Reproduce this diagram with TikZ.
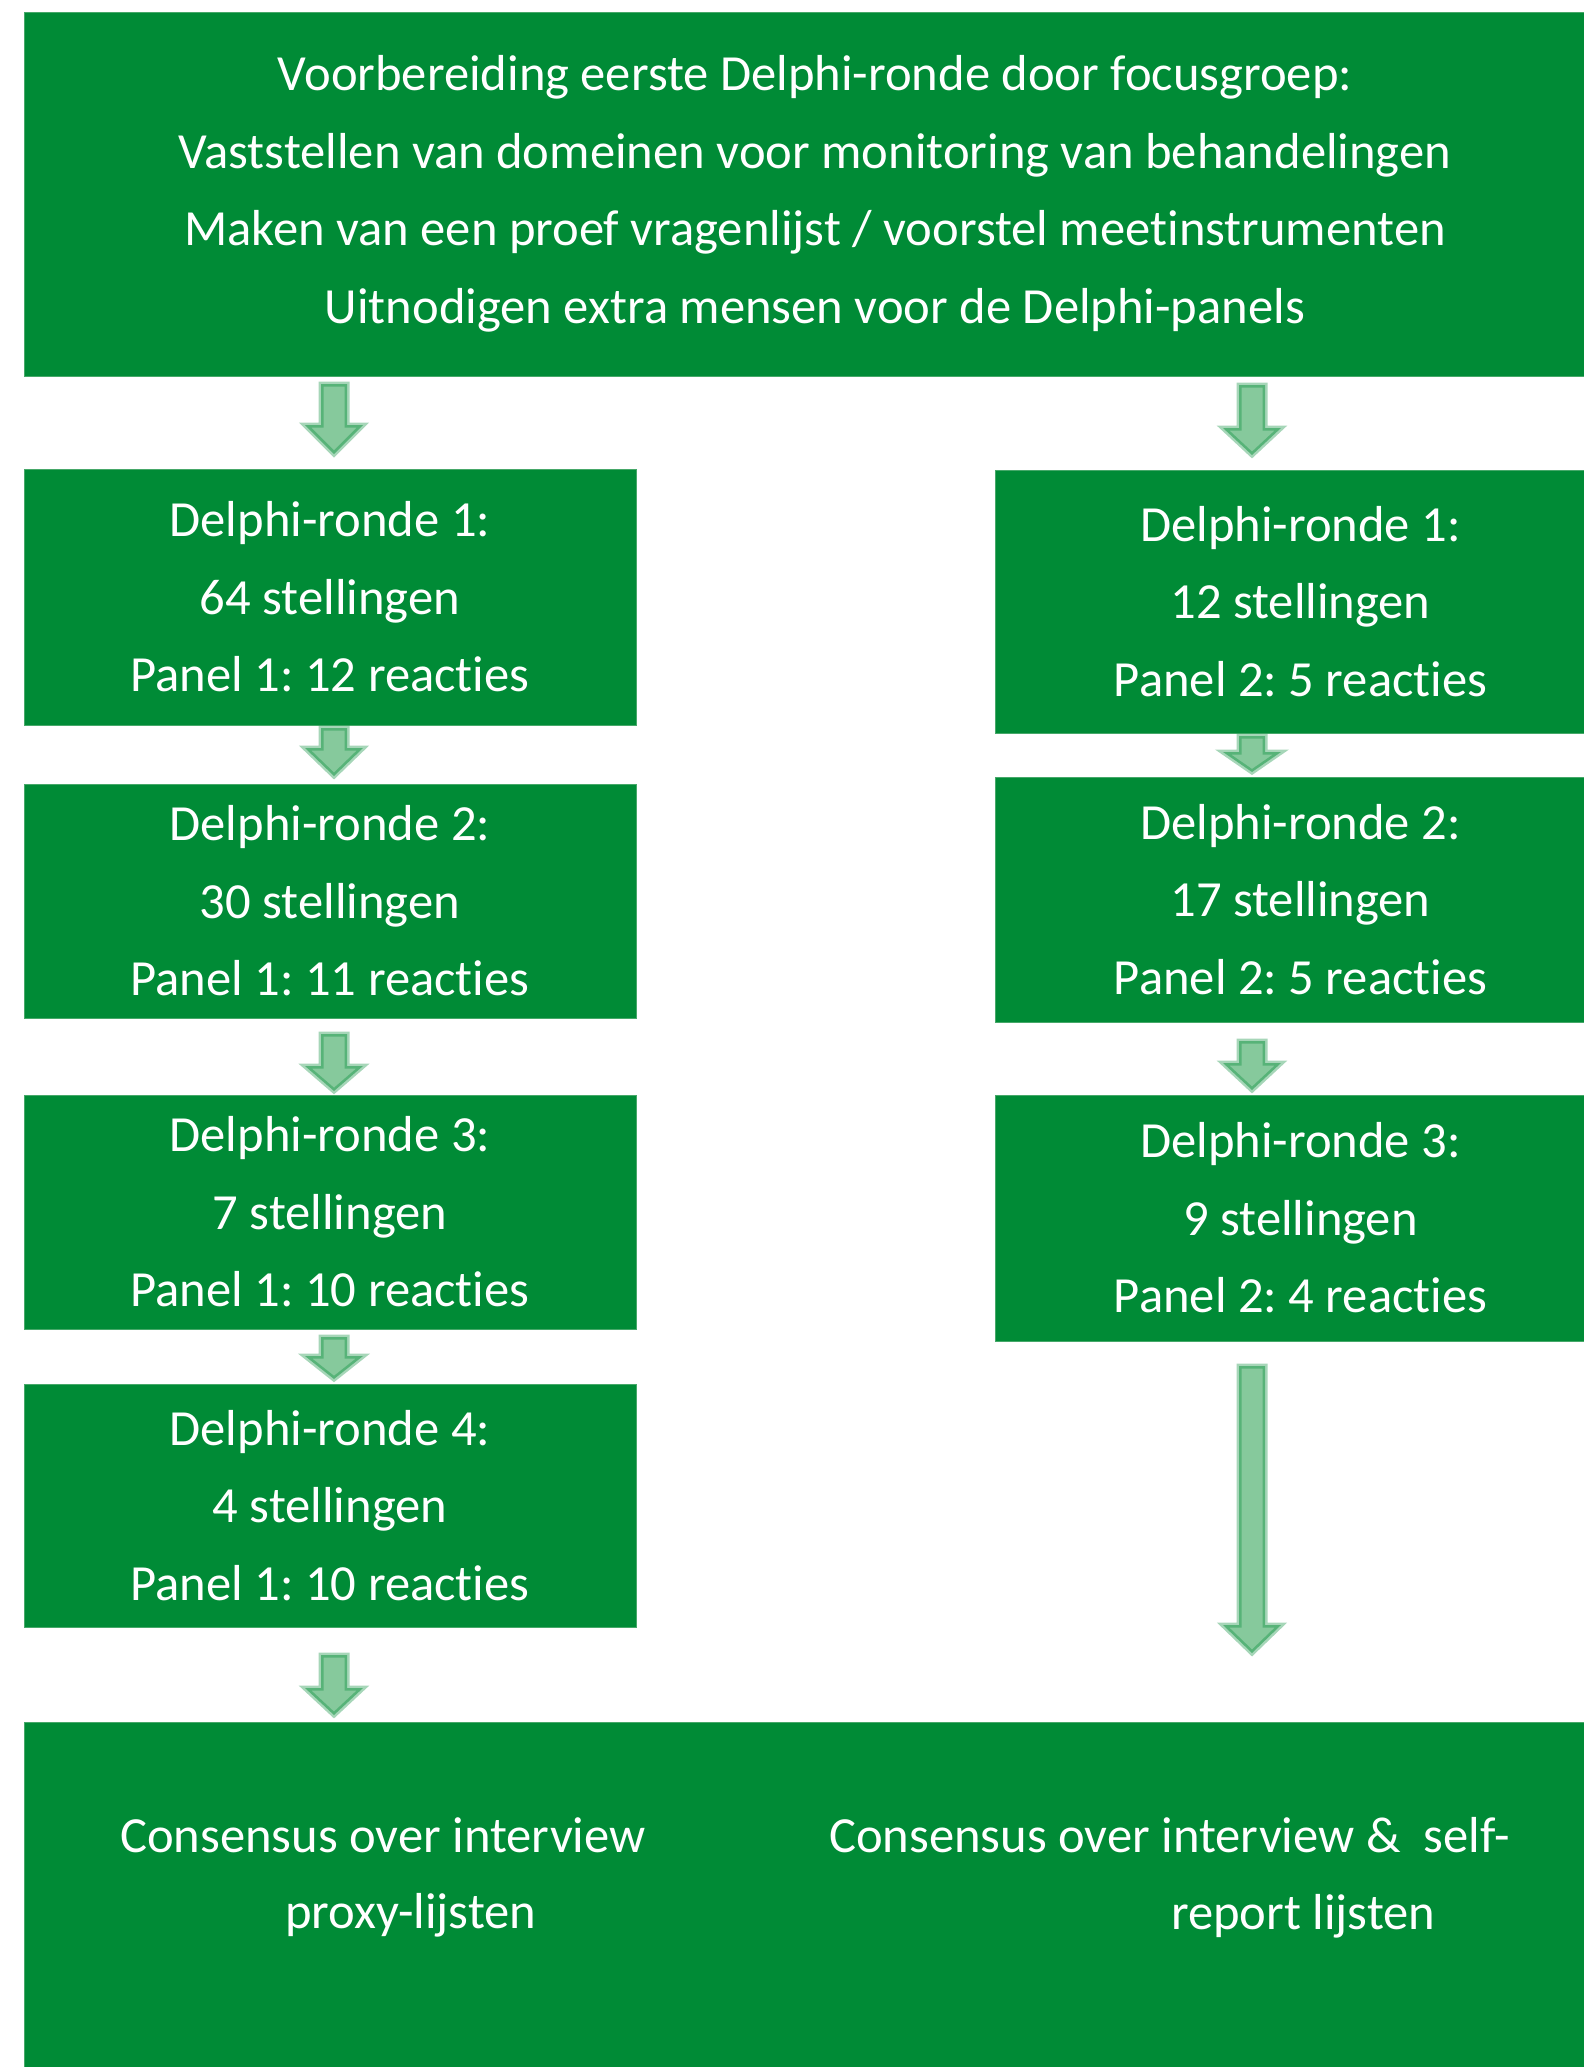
\documentclass[tikz,border=0pt]{standalone}
\usepackage{fontspec}
\setmainfont{Carlito}[Ligatures={NoCommon}]
\frenchspacing
\definecolor{boxgreen}{RGB}{0,139,54}
\definecolor{boxedge}{RGB}{70,168,105}
\definecolor{arrowfill}{RGB}{134,201,156}
\newcommand\blockarr[5]{% name, x, ytop, yhead, ytip
  \coordinate (#1-s) at (#2,#3);
  \coordinate (#1-e) at (#2,#5);
  \draw[blockarrow] (#2-13,#3+2) -- (#2+13,#3+2) -- (#2+13,#4) -- (#2+29,#4)
    -- (#2,#5-3) -- (#2-29,#4) -- (#2-13,#4) -- cycle;}
\begin{document}
\begin{tikzpicture}[x=1pt,y=-1pt,
  box/.style={rectangle, fill=boxgreen, draw=boxedge, line width=1pt,
    inner sep=0pt, outer sep=0pt, text=white, align=center,
    font=\fontsize{50.6}{77.5}\selectfont\frenchspacing},
  btext/.style={text=white, inner sep=0pt, anchor=base west,
    font=\fontsize{50.6}{60}\selectfont\frenchspacing},
  blockarrow/.style={fill=arrowfill, draw=boxgreen, draw opacity=0.35,
    line width=5pt, line join=miter}]
\useasboundingbox (0,0) rectangle (1584,2067);
\clip (0,0) rectangle (1584,2067);
\fill[white] (0,0) rectangle (1584,2067);

\node[box, minimum width=1582pt, minimum height=364pt] (top) at (815,194)
  {Voorbereiding eerste Delphi-ronde door focusgroep:\\
   Vaststellen van domeinen voor monitoring van behandelingen\\
   Maken van een proef vragenlijst / voorstel meetinstrumenten\\
   Uitnodigen extra mensen voor de Delphi-panels};

\node[box, minimum width=612pt, minimum height=256pt] (L1) at (330,597)
  {Delphi-ronde 1:\\ 64 stellingen\\ Panel 1: 12 reacties};
\node[box, minimum width=612pt, minimum height=234pt] (L2) at (330,901)
  {Delphi-ronde 2:\\ 30 stellingen\\ Panel 1: 11 reacties};
\node[box, minimum width=612pt, minimum height=234pt] (L3) at (330,1212)
  {Delphi-ronde 3:\\ 7 stellingen\\ Panel 1: 10 reacties};
\node[box, minimum width=612pt, minimum height=243pt] (L4) at (330,1505.5)
  {Delphi-ronde 4:\\ 4 stellingen\\ Panel 1: 10 reacties};

\node[box, minimum width=611pt, minimum height=263pt] (R1) at (1300.5,601.5)
  {Delphi-ronde 1:\\ 12 stellingen\\ Panel 2: 5 reacties};
\node[box, minimum width=611pt, minimum height=245pt] (R2) at (1300.5,899.5)
  {Delphi-ronde 2:\\ 17 stellingen\\ Panel 2: 5 reacties};
\node[box, minimum width=611pt, minimum height=246pt] (R3) at (1300.5,1218)
  {Delphi-ronde 3:\\ 9 stellingen\\ Panel 2: 4 reacties};

\node[box, minimum width=1582pt, minimum height=378pt] (bottom) at (815,1911) {};
\node[btext] (b1) at (120,1852) {Consensus over interview};
\node[btext] (b2) at (285,1928) {proxy-lijsten};
\node[btext] (b3) at (829,1852) {Consensus over interview \&\ \ self-};
\node[btext] (b4) at (1171,1929) {report lijsten};

\blockarr{aTL}{334}{382}{425}{457}
\blockarr{aTR}{1252}{383}{428}{458}
\blockarr{aL12}{334}{726}{748}{779}
\blockarr{aR12}{1252}{734}{752}{775}
\blockarr{aL23}{334}{1032}{1066}{1094}
\blockarr{aR23}{1252}{1039}{1063}{1093}
\blockarr{aL34}{334}{1335}{1356}{1382}
\blockarr{aR3B}{1252}{1364}{1625}{1656}
\blockarr{aL4B}{334}{1653}{1688}{1718}
\end{tikzpicture}
\end{document}
